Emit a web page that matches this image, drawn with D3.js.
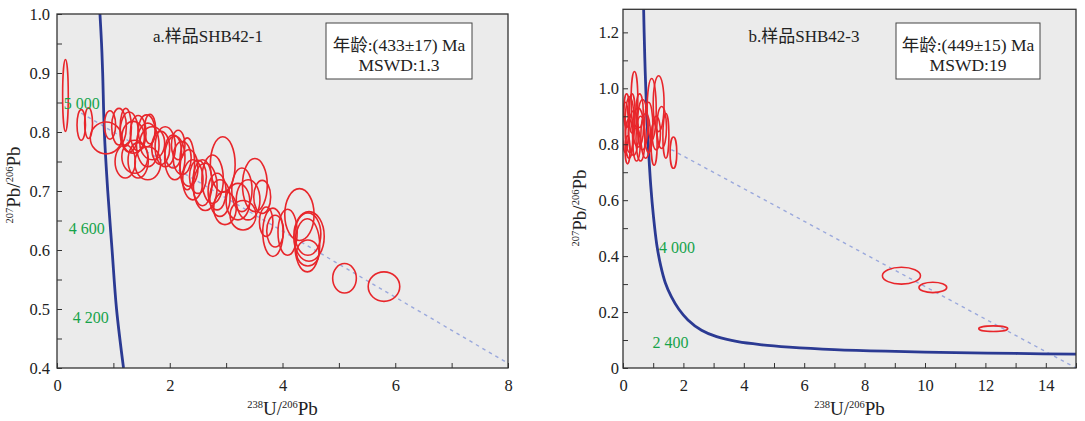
<!DOCTYPE html>
<html>
<head>
<meta charset="utf-8">
<script src="https://cdn.jsdelivr.net/npm/d3@7"></script>
<style>
  body { margin: 0; background: #fff; }
  svg { display: block; }
</style>
</head>
<body>
<div id="chart"></div>
<script>
// === DATA ===
// panel a: concordia curve points [238U/206Pb, 207Pb/206Pb]
const concordiaA = [[0.762, 1.0], [0.79, 0.95], [0.81, 0.90], [0.84, 0.80], [0.90, 0.70], [0.977, 0.60], [1.056, 0.50], [1.18, 0.40]];
const discordiaA = [[0.43, 0.832], [8, 0.408]];
// ellipses [cx, cy, rx, ry]
const ellipsesA = [
  [0.15, 0.862, 0.05, 0.061], [0.43, 0.812, 0.075, 0.026], [0.56, 0.815, 0.07, 0.026],
  [0.87, 0.790, 0.28, 0.027], [0.94, 0.812, 0.10, 0.024], [1.10, 0.809, 0.13, 0.031],
  [1.22, 0.808, 0.10, 0.032], [1.28, 0.800, 0.16, 0.034], [1.35, 0.791, 0.20, 0.027],
  [1.44, 0.798, 0.14, 0.030], [1.59, 0.802, 0.15, 0.027], [1.65, 0.805, 0.10, 0.025],
  [1.69, 0.781, 0.22, 0.028], [1.21, 0.750, 0.18, 0.028], [1.38, 0.758, 0.23, 0.028],
  [1.44, 0.752, 0.18, 0.030], [1.61, 0.747, 0.23, 0.028], [1.61, 0.778, 0.20, 0.037],
  [1.84, 0.773, 0.16, 0.028], [1.92, 0.775, 0.18, 0.034], [2.06, 0.767, 0.15, 0.028],
  [2.09, 0.756, 0.18, 0.037], [2.15, 0.778, 0.12, 0.025], [2.22, 0.756, 0.16, 0.028],
  [2.31, 0.746, 0.13, 0.044], [2.34, 0.739, 0.16, 0.031], [2.41, 0.719, 0.18, 0.034],
  [2.50, 0.724, 0.15, 0.028], [2.58, 0.714, 0.17, 0.039], [2.63, 0.707, 0.21, 0.040],
  [2.76, 0.720, 0.19, 0.041], [2.84, 0.699, 0.16, 0.031], [2.94, 0.745, 0.22, 0.047],
  [2.89, 0.688, 0.18, 0.031], [2.98, 0.671, 0.20, 0.028], [3.21, 0.682, 0.21, 0.031],
  [3.28, 0.702, 0.18, 0.037], [3.30, 0.659, 0.23, 0.025], [3.39, 0.685, 0.21, 0.034],
  [3.51, 0.710, 0.22, 0.045], [3.64, 0.690, 0.15, 0.028], [3.71, 0.648, 0.12, 0.025],
  [3.83, 0.630, 0.18, 0.041], [3.87, 0.632, 0.15, 0.027], [4.09, 0.630, 0.17, 0.039],
  [4.30, 0.660, 0.26, 0.044], [4.47, 0.623, 0.27, 0.042], [4.44, 0.608, 0.22, 0.045],
  [4.45, 0.595, 0.20, 0.022], [4.45, 0.627, 0.23, 0.036], [5.10, 0.552, 0.21, 0.025],
  [5.80, 0.538, 0.28, 0.025]
];
const ageLabelsA = [["5 000", 0.12, 0.849], ["4 600", 0.21, 0.637], ["4 200", 0.28, 0.485]];

// panel b
const concordiaB = [[0.68, 1.30], [0.70, 1.20], [0.735, 1.06], [0.78, 0.92], [0.845, 0.78], [0.92, 0.65],
  [1.01, 0.54], [1.12, 0.44], [1.25, 0.365], [1.40, 0.305], [1.60, 0.255], [1.85, 0.21], [2.15, 0.172],
  [2.6, 0.135], [3.1, 0.112], [3.8, 0.094], [4.6, 0.083], [5.5, 0.075], [7.0, 0.066], [8.7, 0.060],
  [11, 0.055], [13, 0.052], [15.2, 0.049]];
const discordiaB = [[1.6, 0.781], [15, 0.0]];
const ellipsesB = [
  [0.38, 0.960, 0.11, 0.100], [0.08, 0.86, 0.10, 0.09], [0.22, 0.87, 0.15, 0.10],
  [0.20, 0.82, 0.12, 0.07], [0.35, 0.84, 0.16, 0.08], [0.50, 0.86, 0.18, 0.07],
  [0.58, 0.82, 0.15, 0.08], [0.65, 0.87, 0.17, 0.09], [0.45, 0.80, 0.12, 0.06],
  [0.75, 0.83, 0.16, 0.08], [0.95, 0.925, 0.15, 0.11], [1.18, 0.945, 0.18, 0.10],
  [1.03, 0.80, 0.10, 0.075], [1.28, 0.86, 0.16, 0.075], [1.42, 0.83, 0.10, 0.08],
  [1.10, 0.84, 0.14, 0.06], [1.67, 0.77, 0.11, 0.056], [0.15, 0.78, 0.08, 0.05],
  [0.30, 0.91, 0.10, 0.07], [0.55, 0.92, 0.12, 0.06], [0.85, 0.86, 0.14, 0.09],
  [0.12, 0.92, 0.09, 0.06],
  [9.22, 0.330, 0.63, 0.030], [10.26, 0.288, 0.46, 0.0185], [12.26, 0.1405, 0.48, 0.010]
];
const ageLabelsB = [["4 000", 1.19, 0.432], ["2 400", 0.98, 0.093]];

const panels = [
  { id: "a", xDomain: [0, 8], yDomain: [0.4, 1.0], xRange: [57, 508], yRange: [368, 14],
    xTicks: d3.range(0, 9, 1), xLabels: [0, 2, 4, 6, 8],
    yTicks: d3.range(0.4, 1.0001, 0.05), yLabels: [0.4, 0.5, 0.6, 0.7, 0.8, 0.9, 1.0], yFmt: d3.format(".1f"),
    concordia: concordiaA, discordia: discordiaA, ellipses: ellipsesA, ages: ageLabelsA,
    title: "a.样品SHB42-1", titleX: 208, box: [326, 23, 146, 56], age: "年龄:(433±17) Ma", mswd: "MSWD:1.3",
    yLabelX: 20, yLabelY: 185 },
  { id: "b", xDomain: [0, 15], yDomain: [0, 1.2825], xRange: [623, 1076], yRange: [368, 9.3],
    xTicks: d3.range(0, 16, 1), xLabels: [0, 2, 4, 6, 8, 10, 12, 14],
    yTicks: d3.range(0, 1.2801, 0.1), yLabels: [0, 0.2, 0.4, 0.6, 0.8, 1.0, 1.2], yFmt: v => v === 0 ? "0" : d3.format(".1f")(v),
    concordia: concordiaB, discordia: discordiaB, ellipses: ellipsesB, ages: ageLabelsB,
    title: "b.样品SHB42-3", titleX: 804, box: [896, 23, 144, 56], age: "年龄:(449±15) Ma", mswd: "MSWD:19",
    yLabelX: 586, yLabelY: 208 }
];

const W = 1085, H = 421;
const serif = "'Liberation Serif', 'Times New Roman', serif";
const cjk = "'Liberation Serif', 'Noto Sans CJK SC', serif";

const svg = d3.select("#chart").append("svg")
  .attr("width", W).attr("height", H)
  .style("background", "#fff");

panels.forEach(p => {
  const x = d3.scaleLinear().domain(p.xDomain).range(p.xRange);
  const y = d3.scaleLinear().domain(p.yDomain).range(p.yRange);
  const [x0, x1] = p.xRange, [y0, y1] = [p.yRange[1], p.yRange[0]];
  const g = svg.append("g");

  // plot background
  g.append("rect")
    .attr("x", x0).attr("y", y0).attr("width", x1 - x0).attr("height", y1 - y0)
    .attr("fill", "#ebebeb");

  svg.append("defs").append("clipPath").attr("id", "clip-" + p.id)
    .append("rect").attr("x", x0).attr("y", y0).attr("width", x1 - x0).attr("height", y1 - y0);

  const plot = g.append("g").attr("clip-path", `url(#clip-${p.id})`);

  // discordia (dashed)
  plot.append("path")
    .attr("d", d3.line().x(d => x(d[0])).y(d => y(d[1]))(p.discordia))
    .attr("fill", "none")
    .attr("stroke", "#9aa8dc")
    .attr("stroke-width", 1.4)
    .attr("stroke-dasharray", "3.5,4");

  // concordia curve
  plot.append("path")
    .attr("d", d3.line().x(d => x(d[0])).y(d => y(d[1])).curve(d3.curveCatmullRom.alpha(0.5))(p.concordia))
    .attr("fill", "none")
    .attr("stroke", "#2b3a93")
    .attr("stroke-width", 2.8);

  // error ellipses
  plot.selectAll("ellipse")
    .data(p.ellipses)
    .join("ellipse")
    .attr("cx", d => x(d[0]))
    .attr("cy", d => y(d[1]))
    .attr("rx", d => Math.abs(x(d[2]) - x(0)))
    .attr("ry", d => Math.abs(y(p.yDomain[0]) - y(p.yDomain[0] + d[3])))
    .attr("fill", "none")
    .attr("stroke", "#e8262b")
    .attr("stroke-width", 1.6);

  // age labels on concordia
  g.selectAll(".age")
    .data(p.ages)
    .join("text")
    .attr("x", d => x(d[1]))
    .attr("y", d => y(d[2]))
    .attr("dy", "0.35em")
    .attr("font-family", serif)
    .attr("font-size", 16)
    .attr("fill", "#16a34a")
    .text(d => d[0]);

  // frame
  g.append("rect")
    .attr("x", x0).attr("y", y0).attr("width", x1 - x0).attr("height", y1 - y0)
    .attr("fill", "none").attr("stroke", "#333").attr("stroke-width", 1.3);

  // axes, ticks pointing inward
  const xAxis = d3.axisBottom(x)
    .tickValues(p.xTicks)
    .tickSize(-5)
    .tickPadding(11)
    .tickFormat(v => p.xLabels.includes(v) ? String(v) : "");
  const gx = g.append("g").attr("transform", `translate(0,${y1})`).call(xAxis);

  const yAxis = d3.axisLeft(y)
    .tickValues(p.yTicks)
    .tickSize(-5)
    .tickPadding(p.id === "a" ? 7 : 4)
    .tickFormat(v => p.yLabels.some(l => Math.abs(l - v) < 1e-6) ? p.yFmt(v) : "");
  const gy = g.append("g").attr("transform", `translate(${x0},0)`).call(yAxis);

  [gx, gy].forEach(a => {
    a.select(".domain").remove();
    a.selectAll(".tick line").attr("stroke", "#333").attr("stroke-width", 1);
    a.selectAll(".tick text")
      .attr("font-family", serif).attr("font-size", 16.5).attr("fill", "#222");
  });

  // x axis title
  const xt = g.append("text")
    .attr("x", (x0 + x1) / 2).attr("y", 415)
    .attr("text-anchor", "middle")
    .attr("font-family", serif).attr("font-size", 19).attr("fill", "#222");
  xt.append("tspan").attr("font-size", 10.5).attr("dy", -7).text("238");
  xt.append("tspan").attr("dy", 7).text("U/");
  xt.append("tspan").attr("font-size", 10.5).attr("dy", -7).text("206");
  xt.append("tspan").attr("dy", 7).text("Pb");

  // y axis title
  const yt = g.append("text")
    .attr("transform", `translate(${p.yLabelX},${p.yLabelY}) rotate(-90)`)
    .attr("text-anchor", "middle")
    .attr("dy", "0.35em")
    .attr("font-family", serif).attr("font-size", 19).attr("fill", "#222");
  yt.append("tspan").attr("font-size", 10.5).attr("dy", -7).text("207");
  yt.append("tspan").attr("dy", 7).text("Pb/");
  yt.append("tspan").attr("font-size", 10.5).attr("dy", -7).text("206");
  yt.append("tspan").attr("dy", 7).text("Pb");

  // panel title
  g.append("text")
    .attr("x", p.titleX).attr("y", 42)
    .attr("text-anchor", "middle")
    .attr("font-family", cjk).attr("font-size", 17).attr("fill", "#222")
    .text(p.title);

  // result box
  const [bx, by, bw, bh] = p.box;
  g.append("rect")
    .attr("x", bx).attr("y", by).attr("width", bw).attr("height", bh)
    .attr("fill", "#fff").attr("stroke", "#444").attr("stroke-width", 1);
  g.append("text")
    .attr("x", bx + bw / 2).attr("y", by + 28)
    .attr("text-anchor", "middle")
    .attr("font-family", cjk).attr("font-size", 17.5).attr("fill", "#222")
    .text(p.age);
  g.append("text")
    .attr("x", bx + bw / 2).attr("y", by + 48)
    .attr("text-anchor", "middle")
    .attr("font-family", serif).attr("font-size", 17.5).attr("fill", "#222")
    .text(p.mswd);
});
</script>
</body>
</html>
